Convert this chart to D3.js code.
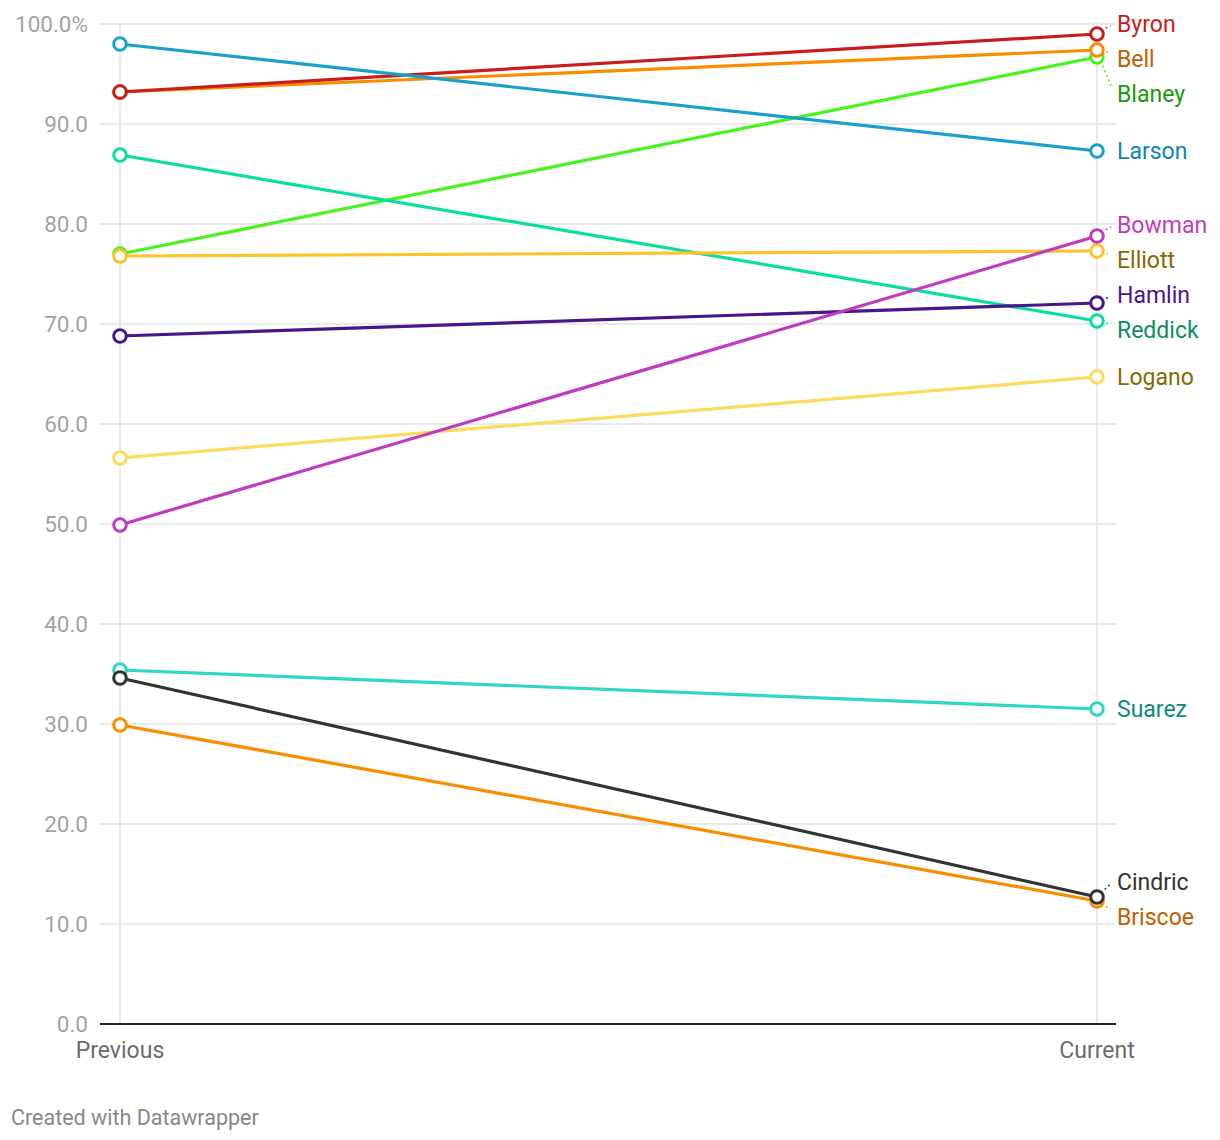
<!DOCTYPE html>
<html><head><meta charset="utf-8">
<script src="https://cdn.jsdelivr.net/npm/d3@7"></script>
<style>
html,body{margin:0;padding:0;background:#fff;}
svg{display:block;font-family:Roboto,"Noto Sans",sans-serif;}
</style></head>
<body>
<svg id="chart" width="1220" height="1140"></svg>
<script>
const categories = ["Previous", "Current"];
const drivers = ["Blaney","Bell","Byron","Larson","Reddick","Elliott","Logano","Hamlin","Bowman","Suarez","Briscoe","Cindric"];
const previousValues = [77.0, 93.2, 93.2, 98.0, 86.9, 76.8, 56.6, 68.8, 49.9, 35.4, 29.9, 34.6];
const currentValues  = [96.7, 97.4, 99.0, 87.3, 70.3, 77.3, 64.7, 72.1, 78.8, 31.5, 12.3, 12.7];
const lineColors  = ["#47f31c","#fa8c00","#c71e1d","#18a1cd","#09dea0","#fec22b","#ffdb5c","#4a148c","#c03cbf","#2ed6c6","#fa8c00","#333333"];
const labelColors = ["#1a9a0a","#c25e00","#c71e1d","#0b86b0","#0b8f5c","#8a6800","#8a6800","#4a148c","#c03cbf","#0e8a7e","#c25e00","#333333"];
const yTicks = [0,10,20,30,40,50,60,70,80,90,100];

const svg = d3.select("#chart");
const x = d3.scalePoint().domain(categories).range([120, 1097]);
const y = d3.scaleLinear().domain([0, 100]).range([1024, 24]);

// gridlines
const grid = svg.append("g");
grid.selectAll("line.h").data(yTicks.filter(d=>d>0)).join("line")
  .attr("x1", 100).attr("x2", 1116)
  .attr("y1", d=>y(d)).attr("y2", d=>y(d))
  .attr("stroke", "#e3e3e3").attr("stroke-width", 1.5);
grid.selectAll("line.v").data(categories).join("line")
  .attr("x1", d=>x(d)).attr("x2", d=>x(d))
  .attr("y1", y(100)).attr("y2", y(0))
  .attr("stroke", "#e3e3e3").attr("stroke-width", 1.5);

// y tick labels
svg.append("g").selectAll("text").data(yTicks).join("text")
  .attr("x", 88).attr("y", d=>y(d)).attr("dy", "0.35em")
  .attr("text-anchor", "end").attr("font-size", 22.5).attr("fill", "#a3a3a3")
  .text(d => d === 100 ? "100.0%" : d3.format(".1f")(d));

// baseline
svg.append("line").attr("x1", 100).attr("x2", 1116)
  .attr("y1", y(0)).attr("y2", y(0)).attr("stroke", "#222").attr("stroke-width", 2);

// x labels
svg.append("g").selectAll("text").data(categories).join("text")
  .attr("x", d=>x(d)).attr("y", 1050).attr("dy", "0.35em")
  .attr("text-anchor", "middle").attr("font-size", 23).attr("fill", "#6b6b6b")
  .text(d=>d);

// data
const data = drivers.map((n,i)=>({name:n, prev:previousValues[i], cur:currentValues[i], color:lineColors[i], lcolor:labelColors[i]}));

const lineGen = d3.line().x(d=>x(d[0])).y(d=>y(d[1]));
const series = svg.append("g").selectAll("g").data(data).join("g");
series.append("path")
  .attr("d", d => lineGen([[categories[0], d.prev],[categories[1], d.cur]]))
  .attr("fill","none").attr("stroke", d=>d.color).attr("stroke-width", 3.2);
series.append("circle").attr("cx", x(categories[0])).attr("cy", d=>y(d.prev)).attr("r", 6.3)
  .attr("fill","#fff").attr("stroke", d=>d.color).attr("stroke-width", 3);
series.append("circle").attr("cx", x(categories[1])).attr("cy", d=>y(d.cur)).attr("r", 6.3)
  .attr("fill","#fff").attr("stroke", d=>d.color).attr("stroke-width", 3);

// label placement (relaxation)
const labels = data.map(d=>({d, py:y(d.cur), ly:y(d.cur)})).sort((a,b)=>a.py-b.py);
const gap = 35, minY = 24;
for (let iter=0; iter<300; iter++) {
  for (let i=1;i<labels.length;i++){
    const a=labels[i-1], b=labels[i];
    const ov = gap - (b.ly - a.ly);
    if (ov>0){ a.ly -= ov/2; b.ly += ov/2; }
  }
  labels.forEach(l=>{ if (l.ly<minY) l.ly=minY; });
}
const lx = 1117;
const lg = svg.append("g");
labels.forEach(l=>{
  if (Math.abs(l.ly - l.py) > 4) {
    lg.append("line").attr("x1", x(categories[1])+4).attr("y1", l.py + (l.ly>l.py?4:-4))
      .attr("x2", lx-6).attr("y2", l.ly + (l.ly>l.py?-8:2))
      .attr("stroke", l.d.color).attr("stroke-width", 1.5).attr("stroke-dasharray","2,3");
  }
  lg.append("text").attr("x", lx).attr("y", l.ly).attr("dy","0.35em")
    .attr("font-size", 23).attr("fill", l.d.lcolor).text(l.d.name);
});

svg.append("text").attr("x", 11).attr("y", 1117).attr("dy","0.35em")
  .attr("font-size", 21.5).attr("fill", "#888").text("Created with Datawrapper");
</script>
</body></html>
